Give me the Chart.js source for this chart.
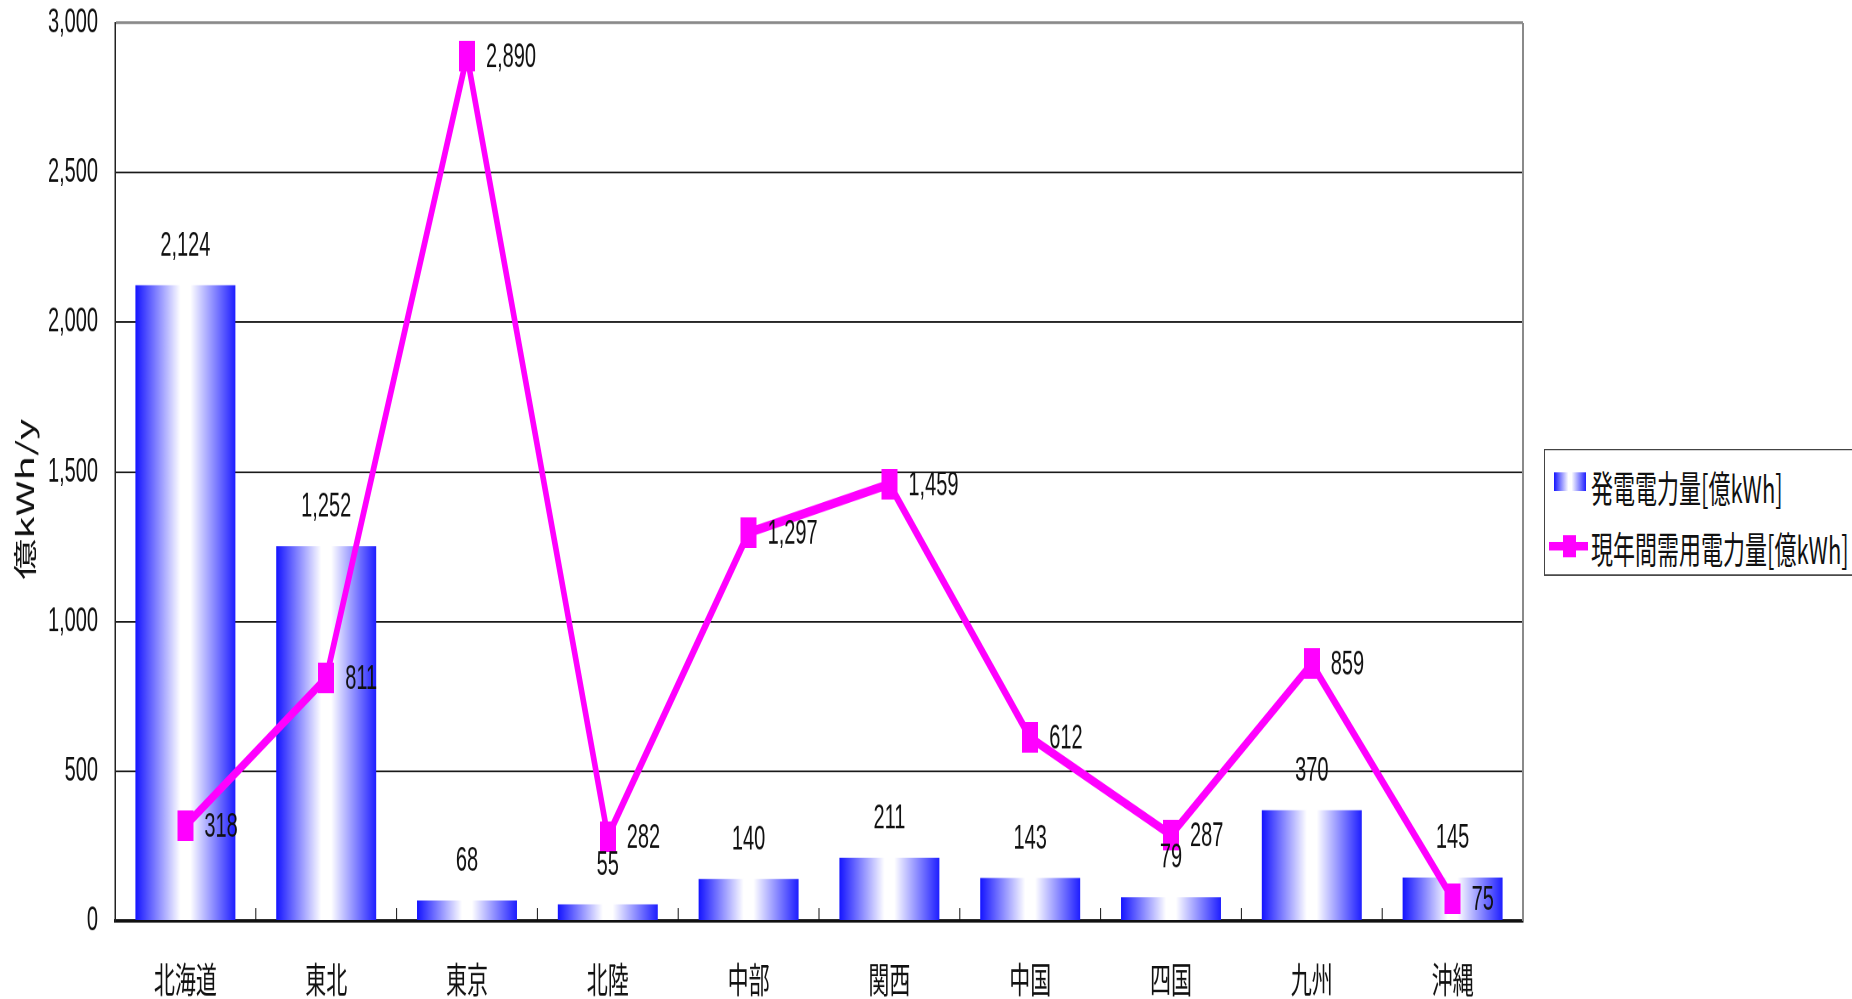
<!DOCTYPE html>
<html lang="ja">
<head>
<meta charset="utf-8">
<title>地域別 発電電力量と年間需用電力量</title>
<script src="https://cdn.jsdelivr.net/npm/chart.js@4.4.1/dist/chart.umd.min.js"></script>
<style>
  html, body { margin: 0; padding: 0; background: #fff; width: 1852px; height: 999px; overflow: hidden; }
  #page { position: relative; width: 1852px; height: 999px; overflow: hidden; }
  /* chart is laid out 588px tall, then stretched to the full window height */
  #stage { position: absolute; left: 0; top: 0; width: 1852px; height: 588px; transform: scaleY(1.699); transform-origin: 0 0; }
  #chart { position: absolute; left: 0; top: 0; width: 1852px; height: 588px; }
  .legend {
    position: absolute; left: 1544px; top: 264px; width: 330px; height: 73px;
    border: 1px solid #444; background: #fff;
    font-family: "Noto Sans CJK JP", sans-serif; font-size: 22px; color: #111;
  }
  .legend .row { position: absolute; left: 46px; height: 34px; line-height: 34px; white-space: nowrap; }
  .legend .bar-swatch {
    position: absolute; left: 9px; top: 12.5px; width: 32px; height: 11.5px;
    background: linear-gradient(to right, #1414ff 0%, #ffffff 45%, #ffffff 55%, #1e1eff 100%);
  }
  .legend .line-swatch { position: absolute; left: 4px; top: 54.1px; width: 39px; height: 5px; background: #ff00ff; }
  .legend .line-mark { position: absolute; left: 17.5px; top: 49.8px; width: 13px; height: 13.5px; background: #ff00ff; }
</style>
</head>
<body>
<div id="page">
  <div id="stage">
    <canvas id="chart" width="1852" height="588"></canvas>
    <div class="legend">
      <div class="bar-swatch"></div>
      <div class="row" style="top:4px">発電電力量[億kWh]</div>
      <div class="line-swatch"></div>
      <div class="line-mark"></div>
      <div class="row" style="top:39.6px">現年間需用電力量[億kWh]</div>
    </div>
  </div>
</div>
<script>
// regions and yearly values (億kWh)
const regions = ['北海道', '東北', '東京', '北陸', '中部', '関西', '中国', '四国', '九州', '沖縄'];
const generated = [2124, 1252, 68, 55, 140, 211, 143, 79, 370, 145];
const demand = [318, 811, 2890, 282, 1297, 1459, 612, 287, 859, 75];

const yMax = 3000;
const yStep = 500;
const yTitle = '億kWh/y';
const barShare = 0.71;

const numFont = '"Liberation Sans", Arial, sans-serif';
const cjkFont = '"Noto Sans CJK JP", sans-serif';

function fmt(v) {
  return Number(v).toLocaleString('en-US');
}

// tall magenta marker for the demand line
const marker = document.createElement('canvas');
marker.width = 16;
marker.height = 18;
const mctx = marker.getContext('2d');
mctx.fillStyle = '#ff00ff';
mctx.fillRect(0, 0, 16, 18);

// blue -> white -> blue across each bar
function barGradient(context) {
  const chart = context.chart;
  const x = chart.scales.x;
  if (!chart.chartArea || !x || context.dataIndex === undefined) return '#3030ff';
  const cx = x.getPixelForValue(context.dataIndex);
  const half = (x.width / regions.length) * barShare / 2;
  const g = chart.ctx.createLinearGradient(cx - half, 0, cx + half, 0);
  g.addColorStop(0, '#1414ff');
  g.addColorStop(0.45, '#ffffff');
  g.addColorStop(0.55, '#ffffff');
  g.addColorStop(1, '#1e1eff');
  return g;
}

// right border, short category ticks inside the plot, y axis title
const frame = {
  id: 'frame',
  beforeDatasetsDraw(chart) {
    const { ctx, chartArea: a, scales: { x } } = chart;
    const step = x.width / regions.length;
    ctx.save();
    ctx.strokeStyle = '#8a8a8a';
    ctx.lineWidth = 2;
    ctx.beginPath();
    ctx.moveTo(a.right, a.top);
    ctx.lineTo(a.right, a.bottom);
    ctx.stroke();
    ctx.strokeStyle = '#111';
    ctx.lineWidth = 1;
    for (let i = 1; i < regions.length; i++) {
      const px = x.getPixelForValue(i) - step / 2;
      ctx.beginPath();
      ctx.moveTo(px, a.bottom);
      ctx.lineTo(px, a.bottom - 7.5);
      ctx.stroke();
    }
    // axis title sits a little below the middle of the axis
    ctx.translate(25, (a.top + a.bottom) / 2 + 16);
    ctx.rotate(-Math.PI / 2);
    ctx.font = '24px ' + cjkFont;
    ctx.fillStyle = '#111';
    ctx.textAlign = 'center';
    ctx.textBaseline = 'middle';
    ctx.fillText(yTitle, 0, 0);
    ctx.restore();
  }
};

// value labels: above the bars, right of the line points
const valueLabels = {
  id: 'valueLabels',
  afterDatasetsDraw(chart) {
    const ctx = chart.ctx;
    ctx.save();
    ctx.font = '20px ' + numFont;
    ctx.fillStyle = '#111';
    ctx.textBaseline = 'middle';
    ctx.textAlign = 'center';
    chart.getDatasetMeta(0).data.forEach((bar, i) => {
      ctx.fillText(fmt(generated[i]), bar.x, bar.y - 23);
    });
    ctx.textAlign = 'left';
    chart.getDatasetMeta(1).data.forEach((pt, i) => {
      ctx.fillText(fmt(demand[i]), pt.x + 19, pt.y + 1);
    });
    ctx.restore();
  }
};

new Chart(document.getElementById('chart'), {
  data: {
    labels: regions,
    datasets: [
      {
        type: 'bar',
        label: '発電電力量[億kWh]',
        data: generated,
        backgroundColor: barGradient,
        borderWidth: 0,
        barPercentage: barShare,
        categoryPercentage: 1,
        order: 2
      },
      {
        type: 'line',
        label: '現年間需用電力量[億kWh]',
        data: demand,
        borderColor: '#ff00ff',
        backgroundColor: '#ff00ff',
        borderWidth: 5.5,
        tension: 0,
        pointStyle: marker,
        pointRadius: 8,
        order: 1
      }
    ]
  },
  options: {
    responsive: false,
    animation: false,
    devicePixelRatio: 2,
    layout: { padding: { top: 13.5, right: 329, bottom: 0, left: 0 } },
    plugins: {
      legend: { display: false },
      tooltip: { enabled: false }
    },
    scales: {
      x: {
        afterFit(scale) { scale.height = 46; },
        grid: { display: false, drawTicks: false },
        border: { color: '#111', width: 2 },
        ticks: {
          color: '#111',
          font: { family: cjkFont, size: 21 },
          padding: 22,
          autoSkip: false,
          maxRotation: 0
        }
      },
      y: {
        min: 0,
        max: yMax,
        afterFit(scale) {
          scale.width = 115;
          scale.paddingTop = 0;
          scale.paddingBottom = 0;
        },
        grid: {
          color: c => c.tick && c.tick.value === yMax ? '#8a8a8a' : '#1a1a1a',
          lineWidth: c => c.tick && c.tick.value === yMax ? 1.6 : 1,
          drawTicks: false
        },
        border: { color: '#222', width: 1.5 },
        ticks: {
          stepSize: yStep,
          padding: 17,
          color: '#111',
          font: { family: numFont, size: 20 },
          callback: v => fmt(v)
        }
      }
    }
  },
  plugins: [frame, valueLabels]
});
</script>
</body>
</html>
